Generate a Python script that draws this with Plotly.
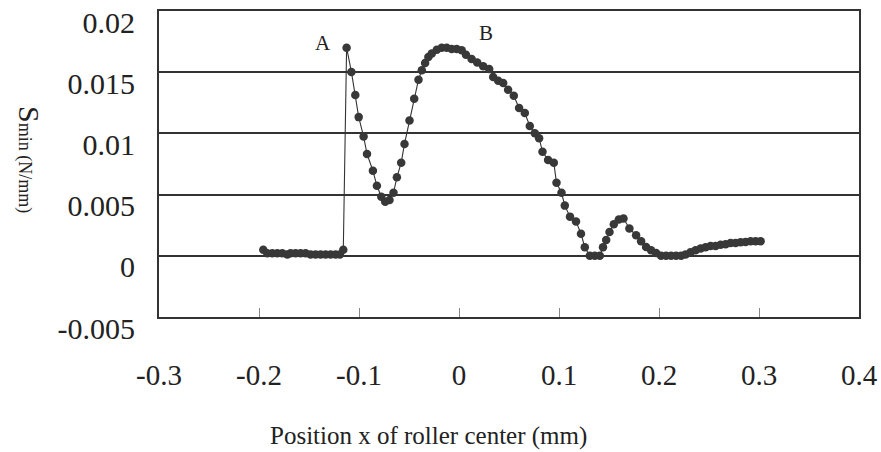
import plotly.graph_objects as go

x_pos = [-0.1957, -0.1917, -0.1867, -0.1817, -0.1767, -0.1717, -0.1684, -0.1634, -0.1584,
         -0.1534, -0.1484, -0.1434, -0.1384, -0.1334, -0.1284, -0.1234, -0.1191, -0.1157,
         -0.1124, -0.1076, -0.1037, -0.1003, -0.0954, -0.0920, -0.0861, -0.0821, -0.0777,
         -0.0738, -0.0695, -0.0655, -0.0621, -0.0578, -0.0545, -0.0495, -0.0448, -0.0405,
         -0.0372, -0.0339, -0.0306, -0.0272, -0.0222, -0.0173, -0.0123, -0.0073, -0.0023,
         0.0027, 0.0070, 0.0126, 0.0182, 0.0242, 0.0302, 0.0342, 0.0392, 0.0442, 0.0491,
         0.0548, 0.0601, 0.0658, 0.0708, 0.0758, 0.0801, 0.0835, 0.0891, 0.0948, 0.0975,
         0.1025, 0.1058, 0.1110, 0.1170, 0.1220, 0.1258, 0.1308, 0.1358, 0.1408, 0.1440,
         0.1472, 0.1505, 0.1548, 0.1598, 0.1645, 0.1704, 0.1771, 0.1821, 0.1871, 0.1921,
         0.1971, 0.2021, 0.2071, 0.2121, 0.2171, 0.2221, 0.2266, 0.2316, 0.2366, 0.2416,
         0.2466, 0.2516, 0.2566, 0.2616, 0.2666, 0.2716, 0.2766, 0.2816, 0.2866, 0.2916,
         0.2966, 0.3016]
s_min = [0.0005, 0.0002, 0.0002, 0.0002, 0.0002, 0.0001, 0.0002, 0.0002, 0.0002,
         0.0002, 0.0001, 0.0001, 0.0001, 0.0001, 0.0001, 0.0001, 0.0001, 0.0005,
         0.0170, 0.01502, 0.01313, 0.01133, 0.00974, 0.00832, 0.00695, 0.00572, 0.00482,
         0.00441, 0.00455, 0.00515, 0.00641, 0.00761, 0.00914, 0.01105, 0.01283, 0.01439,
         0.01515, 0.01575, 0.01625, 0.01652, 0.01684, 0.0170, 0.0170, 0.0169, 0.0169,
         0.0168, 0.01643, 0.01608, 0.0158, 0.01548, 0.01526, 0.01461, 0.0143, 0.01411, 0.01357,
         0.01307, 0.01207, 0.01166, 0.01061, 0.01002, 0.00961, 0.00851, 0.00783, 0.00761, 0.00597,
         0.00515, 0.0041, 0.0032, 0.0028, 0.0018, 0.0007, 0.0, 0.0, 0.0, 0.0007,
         0.0013, 0.00195, 0.00258, 0.00297, 0.00305, 0.00223, 0.00168, 0.00119, 0.00072, 0.00045,
         0.00023, 0.0, 0.0, 0.0, 0.0, 0.0, 0.0001, 0.0003, 0.00045, 0.0006,
         0.0007, 0.0008, 0.0008, 0.0009, 0.00095, 0.00105, 0.00105, 0.0011, 0.00113, 0.00119,
         0.00119, 0.00119]

x_ticks = [-0.3, -0.2, -0.1, 0, 0.1, 0.2, 0.3, 0.4]
x_tick_text = ["-0.3", "-0.2", "-0.1", "0", "0.1", "0.2", "0.3", "0.4"]
y_ticks = [-0.005, 0, 0.005, 0.01, 0.015, 0.02]
y_tick_text = ["-0.005", "0", "0.005", "0.01", "0.015", "0.02"]

labels = [("A", -0.1356, 0.01736), ("B", 0.027, 0.01818)]

FONT = "Liberation Serif"
DARK = "#333333"
TXT = "#222222"

# plot area sits at x 159..859, y 11..317 in the 881x452 window
fig = go.Figure()
fig.add_trace(go.Scatter(
    x=x_pos, y=s_min, mode="lines+markers",
    line=dict(color=DARK, width=1.1),
    marker=dict(color="#383838", size=8.5, line=dict(width=0)),
    showlegend=False,
))

for txt, lx, ly in labels:
    fig.add_annotation(x=lx, y=ly, text=txt, showarrow=False,
                       xanchor="center", yanchor="middle",
                       font=dict(family=FONT, size=21, color=TXT))

fig.add_annotation(xref="paper", yref="paper", x=(428 - 159) / 700, y=(317 - 436) / 306,
                   xanchor="center", yanchor="middle",
                   text="Position x of roller center (mm)", showarrow=False,
                   font=dict(family=FONT, size=25, color=TXT))
fig.add_annotation(xref="paper", yref="paper", x=(29 - 159) / 700, y=(317 - 159) / 306,
                   xanchor="center", yanchor="middle",
                   text="<span style='font-size:30px'>S</span><span style='font-size:18px'>min (N/mm)</span>",
                   textangle=90, showarrow=False,
                   font=dict(family=FONT, size=18, color=TXT))

fig.update_layout(
    width=881, height=452,
    margin=dict(l=159, r=22, t=11, b=135),
    paper_bgcolor="white", plot_bgcolor="white",
    font=dict(family=FONT, color=TXT),
)
fig.update_xaxes(
    range=[-0.3, 0.4], tickvals=x_ticks, ticktext=x_tick_text,
    tickfont=dict(family=FONT, size=29, color=TXT),
    showgrid=False, zeroline=False, automargin=False,
    showline=True, linecolor=DARK, linewidth=2, mirror=True,
    ticks="inside", ticklen=9, tickwidth=1, tickcolor="#888888",
    ticklabelstandoff=31, ticklabeloverflow="allow",
)
fig.update_yaxes(
    range=[-0.005, 0.0200001], tickvals=y_ticks, ticktext=y_tick_text,
    tickfont=dict(family=FONT, size=30, color=TXT),
    showgrid=True, gridcolor=DARK, gridwidth=1.5, zeroline=False, automargin=False,
    showline=True, linecolor=DARK, linewidth=2, mirror=True,
    ticks="", ticklabelstandoff=16, ticklabelshift=11, ticklabeloverflow="allow",
)

fig.write_html("out.html", config={"displayModeBar": False},
               post_script="document.body.style.margin='0';document.body.style.overflow='hidden';")
